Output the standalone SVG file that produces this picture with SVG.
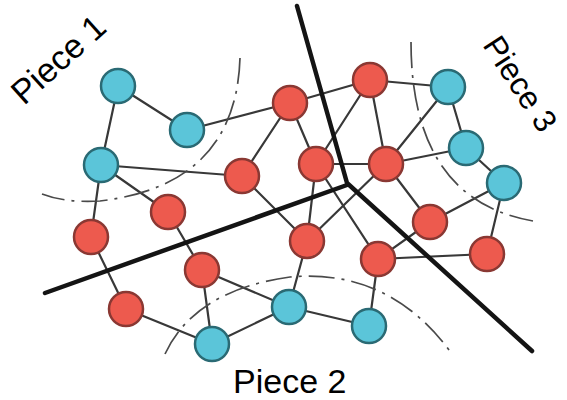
<svg xmlns="http://www.w3.org/2000/svg" width="567" height="400" viewBox="0 0 567 400">
<style>
.e{stroke:#383838;stroke-width:2.2;fill:none;stroke-linecap:round}
.d{stroke:#4a4a4a;stroke-width:1.7;fill:none;stroke-dasharray:26 7 3 7}
.p{stroke:#141414;stroke-width:4.5;fill:none;stroke-linecap:round;stroke-linejoin:round}
.b{fill:#5bc5d9;stroke:#2a6a74;stroke-width:2.5}
.r{fill:#ed5a4e;stroke:#8a3833;stroke-width:2.5}
.t{font-family:"Liberation Sans",Arial,sans-serif;font-size:34px;fill:#000}
</style>
<rect width="567" height="400" fill="#fff"/>
<g id="connectors">
<line class="e" x1="118" y1="86" x2="187" y2="130"/>
<line class="e" x1="118" y1="86" x2="101" y2="165"/>
<line class="e" x1="187" y1="130" x2="290" y2="103"/>
<line class="e" x1="101" y1="165" x2="242" y2="176"/>
<line class="e" x1="101" y1="165" x2="168" y2="212"/>
<line class="e" x1="101" y1="165" x2="91" y2="237"/>
<line class="e" x1="290" y1="103" x2="370" y2="80"/>
<line class="e" x1="290" y1="103" x2="242" y2="176"/>
<line class="e" x1="290" y1="103" x2="316" y2="164"/>
<line class="e" x1="370" y1="80" x2="316" y2="164"/>
<line class="e" x1="370" y1="80" x2="386" y2="164"/>
<line class="e" x1="370" y1="80" x2="448" y2="87"/>
<line class="e" x1="316" y1="164" x2="386" y2="164"/>
<line class="e" x1="386" y1="164" x2="448" y2="87"/>
<line class="e" x1="386" y1="164" x2="466" y2="148"/>
<line class="e" x1="448" y1="87" x2="466" y2="148"/>
<line class="e" x1="466" y1="148" x2="504" y2="183"/>
<line class="e" x1="504" y1="183" x2="430" y2="222"/>
<line class="e" x1="504" y1="183" x2="487" y2="254"/>
<line class="e" x1="386" y1="164" x2="430" y2="222"/>
<line class="e" x1="430" y1="222" x2="378" y2="259"/>
<line class="e" x1="378" y1="259" x2="487" y2="254"/>
<line class="e" x1="242" y1="176" x2="307" y2="241"/>
<line class="e" x1="316" y1="164" x2="307" y2="241"/>
<line class="e" x1="386" y1="164" x2="307" y2="241"/>
<line class="e" x1="316" y1="164" x2="378" y2="259"/>
<line class="e" x1="307" y1="241" x2="289" y2="307"/>
<line class="e" x1="378" y1="259" x2="369" y2="326"/>
<line class="e" x1="289" y1="307" x2="369" y2="326"/>
<line class="e" x1="168" y1="212" x2="202" y2="270"/>
<line class="e" x1="91" y1="237" x2="126" y2="309"/>
<line class="e" x1="126" y1="309" x2="212" y2="344"/>
<line class="e" x1="202" y1="270" x2="212" y2="344"/>
<line class="e" x1="202" y1="270" x2="289" y2="307"/>
<line class="e" x1="212" y1="344" x2="289" y2="307"/>
</g>
<g id="boundaries">
<path class="d" d="M240,58 Q236,185 100,201 Q65,203 42,194"/>
<path class="d" d="M411,42 C411,130 440,205 533,221"/>
<path class="d" d="M165,354 Q195,290 290,277 Q390,268 452,354"/>
</g>
<g id="cuts">
<path class="p" d="M297,6 L347,183 L532,351"/>
<path class="p" d="M45,293 L347,185"/>
</g>
<g id="n-b1"><circle class="b" cx="118" cy="86" r="17"/></g>
<g id="n-b2"><circle class="b" cx="187" cy="130" r="17"/></g>
<g id="n-b3"><circle class="b" cx="101" cy="165" r="17"/></g>
<g id="n-b4"><circle class="b" cx="448" cy="87" r="17"/></g>
<g id="n-b5"><circle class="b" cx="466" cy="148" r="17"/></g>
<g id="n-b6"><circle class="b" cx="504" cy="183" r="17"/></g>
<g id="n-b7"><circle class="b" cx="212" cy="344" r="17"/></g>
<g id="n-b8"><circle class="b" cx="289" cy="307" r="17"/></g>
<g id="n-b9"><circle class="b" cx="369" cy="326" r="17"/></g>
<g id="n-r1"><circle class="r" cx="290" cy="103" r="17"/></g>
<g id="n-r2"><circle class="r" cx="370" cy="80" r="17"/></g>
<g id="n-r3"><circle class="r" cx="242" cy="176" r="17"/></g>
<g id="n-r4"><circle class="r" cx="316" cy="164" r="17"/></g>
<g id="n-r5"><circle class="r" cx="386" cy="164" r="17"/></g>
<g id="n-r6"><circle class="r" cx="168" cy="212" r="17"/></g>
<g id="n-r7"><circle class="r" cx="91" cy="237" r="17"/></g>
<g id="n-r8"><circle class="r" cx="202" cy="270" r="17"/></g>
<g id="n-r9"><circle class="r" cx="126" cy="309" r="17"/></g>
<g id="n-r10"><circle class="r" cx="307" cy="241" r="17"/></g>
<g id="n-r11"><circle class="r" cx="378" cy="259" r="17"/></g>
<g id="n-r12"><circle class="r" cx="430" cy="222" r="17"/></g>
<g id="n-r13"><circle class="r" cx="487" cy="254" r="17"/></g>
<g id="labels">
<text class="t" transform="translate(24,106) rotate(-42)">Piece 1</text>
<text class="t" style="font-size:32px" transform="translate(482,45) rotate(57)">Piece 3</text>
<text class="t" x="233" y="393">Piece 2</text>
</g>
</svg>
